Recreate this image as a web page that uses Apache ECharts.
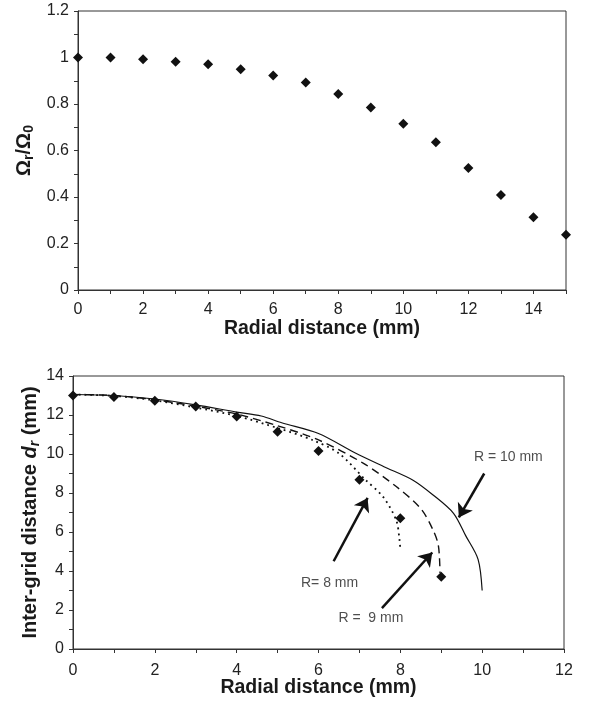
<!DOCTYPE html>
<html>
<head>
<meta charset="utf-8">
<script src="https://cdn.jsdelivr.net/npm/echarts@6/dist/echarts.min.js"></script>
<style>
  html, body { margin: 0; padding: 0; background: #fff; }
  #main { width: 590px; height: 708px; }
</style>
</head>
<body>
<div id="main"></div>
<script>
// top panel: normalised frequency vs radial distance
var topX = [0, 1, 2, 3, 4, 5, 6, 7, 8, 9, 10, 11, 12, 13, 14, 15];
var topY = [1.0, 1.0, 0.993, 0.982, 0.971, 0.95, 0.923, 0.892, 0.843, 0.785, 0.715, 0.635, 0.525, 0.409, 0.313, 0.238];

// bottom panel: measured inter-grid distance
var measX = [0, 1, 2, 3, 4, 5, 6, 7, 8, 9];
var measY = [13.0, 12.92, 12.73, 12.43, 11.92, 11.14, 10.15, 8.68, 6.7, 3.7];

// model curves
var r10 = [[0, 13.05], [1, 13.0], [2, 12.82], [3, 12.52], [4, 12.15], [4.6, 11.95], [5.1, 11.6], [6, 11.05], [6.9, 10.05],
           [7.6, 9.35], [8.3, 8.67], [8.8, 7.9], [9.3, 6.96], [9.6, 5.8], [9.9, 4.6], [10.0, 3.0]];
var r9 = [[0, 13.05], [1, 13.0], [2, 12.78], [3, 12.45], [4, 12.05], [5, 11.45], [6, 10.72], [7.1, 9.52], [7.9, 8.33],
          [8.5, 7.2], [8.8, 6.1], [8.93, 5.3], [8.97, 3.9]];
var r8 = [[0, 13.05], [1, 12.98], [2, 12.75], [3, 12.38], [4, 11.95], [5.05, 11.3], [5.85, 10.72], [6.5, 10.03], [7.15, 8.67],
          [7.58, 7.8], [7.9, 6.6], [7.98, 5.6], [8.0, 5.05]];

// annotation arrows [fromX, fromY, toX, toY] and labels [x, y, text]
var arrows = [[10.05, 9.0, 9.43, 6.75], [6.37, 4.5, 7.2, 7.75], [7.55, 2.1, 8.78, 4.95]];
var notes = [[10.64, 9.83, 'R = 10 mm'], [6.27, 3.37, 'R= 8 mm'], [7.28, 1.57, 'R =  9 mm']];

var font = 'Liberation Sans, Arial, sans-serif';
var axisCol = '#333';
var ink = '#1a1a1a';
var labelStyle = { color: '#222', fontSize: 16, fontFamily: font, margin: 12 };

var chart = echarts.init(document.getElementById('main'));

function pairs(xs, ys) {
  return xs.map(function (x, i) { return [x, ys[i]]; });
}

var tickStyle = { length: 4, lineStyle: { color: axisCol } };
var minorStyle = { show: true, splitNumber: 2, length: 4, lineStyle: { color: axisCol } };
var xNameStyle = { fontSize: 19.5, fontWeight: 'bold', color: ink, fontFamily: font };

option = {
  animation: false,
  grid: [
    { left: 78, right: 24, top: 11, height: 279, show: true, borderColor: axisCol, borderWidth: 1 },
    { left: 73, right: 26, top: 376, height: 273, show: true, borderColor: axisCol, borderWidth: 1 }
  ],
  xAxis: [
    {
      gridIndex: 0, type: 'value', min: 0, max: 15, interval: 2,
      axisLine: { lineStyle: { color: axisCol } },
      axisTick: tickStyle, minorTick: minorStyle,
      splitLine: { show: false },
      axisLabel: Object.assign({}, labelStyle, { showMaxLabel: false }),
      name: 'Radial distance (mm)', nameLocation: 'middle', nameGap: 29, nameMoveOverlap: false,
      nameTextStyle: xNameStyle
    },
    {
      gridIndex: 1, type: 'value', min: 0, max: 12, interval: 2,
      axisLine: { lineStyle: { color: axisCol } },
      axisTick: tickStyle, minorTick: minorStyle,
      splitLine: { show: false },
      axisLabel: Object.assign({}, labelStyle, { margin: 14 }),
      name: 'Radial distance (mm)', nameLocation: 'middle', nameGap: 29, nameMoveOverlap: false,
      nameTextStyle: xNameStyle
    }
  ],
  yAxis: [
    {
      gridIndex: 0, type: 'value', min: 0, max: 1.2, interval: 0.2,
      axisLine: { lineStyle: { color: axisCol } },
      axisTick: tickStyle, minorTick: minorStyle,
      splitLine: { show: false },
      axisLabel: Object.assign({}, labelStyle, { margin: 9, formatter: function (v) { return String(Math.round(v * 10) / 10); } }),
      name: '{b|Ω}{s|r}{b|/Ω}{s|0}', nameLocation: 'middle', nameGap: 42, nameMoveOverlap: false,
      nameTextStyle: {
        fontFamily: font,
        rich: {
          b: { fontSize: 20, fontWeight: 'bold', color: ink, fontFamily: font, lineHeight: 24 },
          s: { fontSize: 14, fontWeight: 'bold', color: ink, fontFamily: font, lineHeight: 12, verticalAlign: 'bottom' }
        }
      }
    },
    {
      gridIndex: 1, type: 'value', min: 0, max: 14, interval: 2,
      axisLine: { lineStyle: { color: axisCol } },
      axisTick: tickStyle, minorTick: minorStyle,
      splitLine: { show: false },
      axisLabel: Object.assign({}, labelStyle, { margin: 9 }),
      name: '{b|Inter-grid distance }{i|d}{s|r}{b| (mm)}', nameLocation: 'middle', nameGap: 31, nameMoveOverlap: false,
      nameTextStyle: {
        fontFamily: font,
        rich: {
          b: { fontSize: 20, fontWeight: 'bold', color: ink, fontFamily: font, lineHeight: 24 },
          i: { fontSize: 20, fontWeight: 'bold', fontStyle: 'italic', color: ink, fontFamily: font, lineHeight: 24 },
          s: { fontSize: 14, fontWeight: 'bold', fontStyle: 'italic', color: ink, fontFamily: font, lineHeight: 12, verticalAlign: 'bottom' }
        }
      }
    }
  ],
  series: [
    {
      type: 'scatter', xAxisIndex: 0, yAxisIndex: 0, clip: false,
      symbol: 'diamond', symbolSize: 10, itemStyle: { color: '#111', opacity: 1 },
      data: pairs(topX, topY)
    },
    {
      type: 'line', xAxisIndex: 1, yAxisIndex: 1, showSymbol: false, smooth: 0.3,
      lineStyle: { color: '#111', width: 1.2 }, data: r10
    },
    {
      type: 'line', xAxisIndex: 1, yAxisIndex: 1, showSymbol: false, smooth: 0.3,
      lineStyle: { color: '#111', width: 1.4, type: [8, 5] }, data: r9
    },
    {
      type: 'line', xAxisIndex: 1, yAxisIndex: 1, showSymbol: false, smooth: 0.3,
      lineStyle: { color: '#111', width: 1.8, type: [1.8, 4] }, data: r8
    },
    {
      type: 'scatter', xAxisIndex: 1, yAxisIndex: 1, clip: false,
      symbol: 'diamond', symbolSize: 10, itemStyle: { color: '#111', opacity: 1 }, z: 5,
      data: pairs(measX, measY)
    },
    {
      type: 'lines', coordinateSystem: 'cartesian2d', xAxisIndex: 1, yAxisIndex: 1,
      symbol: ['none', 'arrow'], symbolSize: 13,
      lineStyle: { color: '#111', width: 2.5, opacity: 1 },
      data: arrows.map(function (a) { return { coords: [[a[0], a[1]], [a[2], a[3]]] }; })
    },
    {
      type: 'scatter', xAxisIndex: 1, yAxisIndex: 1, symbolSize: 0, silent: true,
      label: {
        show: true, position: 'inside', color: '#222', fontSize: 14, fontFamily: font,
        formatter: function (p) { return p.data[2]; }
      },
      data: notes
    }
  ]
};

chart.setOption(option);
</script>
</body>
</html>
